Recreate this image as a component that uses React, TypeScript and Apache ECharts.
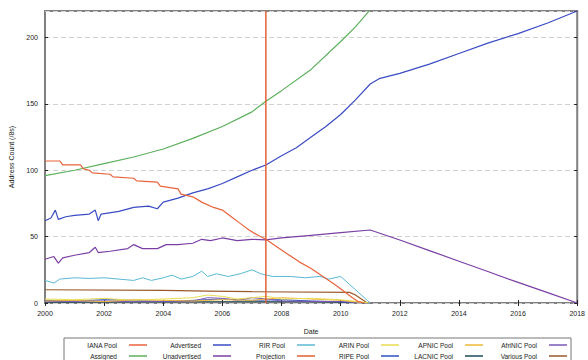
import React, { useEffect, useRef } from "react";
import * as echarts from "echarts";

const FONT = "'Liberation Sans', Arial, sans-serif";

const xTicks = [2000, 2002, 2004, 2006, 2008, 2010, 2012, 2014, 2016, 2018];
const yTicks = [0, 50, 100, 150, 200];

const ianaPool = [[2000,107],[2000.5,107],[2000.6,104],[2001.2,104],[2001.3,101],[2001.5,100],[2001.6,98],[2002.2,97],[2002.3,95],[2003,94],[2003.1,92],[2003.8,91],[2003.9,88],[2004.5,86],[2004.6,82],[2005,80],[2005.3,76],[2005.7,72],[2006,70],[2006.3,65],[2006.6,60],[2006.9,55],[2007.2,51],[2007.47,48],[2007.8,43],[2008.2,37],[2008.6,31],[2009,26],[2009.4,20],[2009.8,14],[2010.1,9],[2010.4,4],[2010.6,1],[2010.8,0]];
const assigned = [[2000,96],[2001,100],[2002,105],[2003,110],[2004,116],[2005,124],[2006,133],[2007,144],[2007.47,152],[2008,160],[2009,176],[2010,197],[2010.5,208],[2011,221],[2011.2,226]];
const advertised = [[2000,62],[2000.2,64],[2000.35,70],[2000.45,63],[2000.7,65],[2001,66],[2001.5,67],[2001.7,70],[2001.8,62],[2001.9,67],[2002.5,69],[2003,72],[2003.5,73],[2003.8,71],[2004,76],[2004.5,79],[2005,83],[2005.5,86],[2006,90],[2006.5,95],[2007,100],[2007.47,104],[2008,111],[2008.5,117],[2009,125],[2009.5,133],[2010,142],[2010.5,153],[2011,165],[2011.3,169],[2012,173],[2013,180],[2014,188],[2015,196],[2016,203],[2017,211],[2018,220]];
const unadvertised = [[2000,33],[2000.3,35],[2000.45,30],[2000.6,34],[2001,36],[2001.5,38],[2001.7,42],[2001.8,38],[2002.2,39],[2002.8,41],[2003,44],[2003.3,41],[2003.8,41],[2004.1,44],[2004.5,44],[2005,45],[2005.3,48],[2005.6,47],[2006,49],[2006.5,47],[2007,48],[2007.47,47.5],[2008,49],[2009,51],[2010,53],[2011,55],[2012,47.5],[2013,39.5],[2014,31.5],[2015,23.5],[2016,15.5],[2017,7.8],[2018,0]];
const rirPool = [[2000,17],[2000.3,15],[2000.5,18],[2001,19],[2001.5,18.5],[2002,19],[2002.5,18],[2003,17],[2003.3,19],[2003.6,17],[2004,19],[2004.3,21],[2004.6,18],[2005,20],[2005.3,24],[2005.5,20],[2005.8,22],[2006.2,20],[2006.6,22],[2007,25],[2007.3,22],[2007.7,20],[2008.3,20],[2008.8,19],[2009.3,20],[2009.6,18],[2010,20],[2010.3,14],[2010.6,8],[2010.9,2],[2011,0]];
const projection = [[2007.47,0],[2007.47,220]];
const arinPool = [[2000,3],[2001,2.5],[2002,3.5],[2003,2],[2004,3],[2005,4],[2005.5,6],[2006,5],[2006.5,3],[2007,4],[2007.5,5],[2008,3],[2009,3.5],[2010,2.5],[2010.8,0.5],[2011,0]];
const apnicPool = [[2000,1.5],[2001,2],[2002,1],[2003,2.5],[2004,2],[2005,1.5],[2006,2.5],[2007,2],[2008,4],[2009,3],[2010,2],[2010.9,0]];
const afrinicPool = [[2000,1],[2002,1.5],[2003,1],[2005,1.5],[2005.5,4],[2006,3.5],[2006.5,2],[2007,4],[2007.5,3],[2008,1.5],[2010,1],[2011,0]];
const ripePool = [[2000,2],[2001,1.5],[2002,2.5],[2003,2],[2004,1],[2005,2],[2006,3],[2007,2],[2008,2.5],[2009,1.5],[2010,1],[2011,0]];
const lacnicPool = [[2000,0.5],[2003,0.8],[2006,1],[2009,1],[2011,0]];
const variousPool = [[2000,10],[2004,9.5],[2005.5,9],[2007,8.5],[2010.3,8],[2010.5,6],[2010.9,0]];

const legendOrder = ["IANA Pool","Advertised","RIR Pool","ARIN Pool","APNIC Pool","AfriNIC Pool","Assigned","Unadvertised","Projection","RIPE Pool","LACNIC Pool","Various Pool"];

const seriesDefs: [string, number[][], string, number][] = [
  ["Various Pool", variousPool, "#9a5a2c", 1.2],
  ["LACNIC Pool", lacnicPool, "#1f4a5a", 1],
  ["RIPE Pool", ripePool, "#3050c0", 1],
  ["AfriNIC Pool", afrinicPool, "#7a58b8", 1],
  ["APNIC Pool", apnicPool, "#f0b838", 1],
  ["ARIN Pool", arinPool, "#e8dc50", 1],
  ["RIR Pool", rirPool, "#5ab8d4", 1],
  ["Unadvertised", unadvertised, "#7b3fa6", 1.2],
  ["Advertised", advertised, "#3a4cc4", 1.2],
  ["Assigned", assigned, "#5cb05c", 1.2],
  ["IANA Pool", ianaPool, "#e8643c", 1.2],
  ["Projection", projection, "#e06034", 1.5],
];

export default function App() {
  const ref = useRef<HTMLDivElement>(null);
  useEffect(() => {
    const chart = echarts.init(ref.current!, null, { renderer: "svg" });
    const option: any = {
      animation: false,
      backgroundColor: "#ffffff",
      textStyle: { fontFamily: FONT },
      grid: { left: 44, right: 4, top: 11, bottom: 57, show: true, borderColor: "#808080", borderWidth: 2, backgroundColor: "transparent" },
      legend: {
        left: 64, top: 338, width: 510, padding: [2, 4, 4, 0], itemGap: 1, itemWidth: 18, itemHeight: 1.5,
        borderColor: "#777777", borderWidth: 1,
        icon: "rect", align: "right", selectedMode: false, data: legendOrder,
        textStyle: { width: 53, padding: [0, 7, 0, 0], lineHeight: 10, fontSize: 6.5, fontFamily: FONT, color: "#222", overflow: "none" },
      },
      xAxis: [
        {
          type: "value", min: 2000, max: 2018, interval: 2,
          name: "Date", nameLocation: "middle", nameGap: 25,
          nameTextStyle: { fontSize: 7, color: "#222", fontFamily: FONT },
          axisLine: { show: false },
          axisTick: { show: true, inside: true, length: 3, lineStyle: { color: "#222" } },
          axisLabel: { fontSize: 7, color: "#222", margin: 7, formatter: (v: number) => String(v) },
          splitLine: { show: false },
        },
        {
          type: "value", position: "top", min: 2000, max: 2018, interval: 2,
          axisLine: { show: false },
          axisTick: { show: true, inside: true, length: 3, lineStyle: { color: "#222" } },
          axisLabel: { show: false }, splitLine: { show: false },
        },
      ],
      yAxis: [
        {
          type: "value", min: 0, max: 220, interval: 50,
          name: "Address Count (/8s)", nameLocation: "middle", nameGap: 30,
          nameTextStyle: { fontSize: 7, color: "#222", fontFamily: FONT },
          axisLine: { show: false },
          axisTick: { show: true, inside: true, length: 3, lineStyle: { color: "#222" } },
          axisLabel: { fontSize: 7, color: "#222", margin: 7, showMaxLabel: false },
          splitLine: { show: true, lineStyle: { color: "#d2d2d2", width: 1, type: [5, 3] } },
        },
        {
          type: "value", position: "right", min: 0, max: 220, interval: 50,
          axisLine: { show: false },
          axisTick: { show: true, inside: true, length: 3, lineStyle: { color: "#222" } },
          axisLabel: { show: false }, splitLine: { show: false },
        },
      ],
      series: seriesDefs.map(([name, data, color, w]) => ({
        name, type: "line", data, symbol: "none", showSymbol: false,
        lineStyle: { color, width: w }, itemStyle: { color },
        clip: true, silent: true,
      })),
    };
    chart.setOption(option);
    return () => chart.dispose();
  }, []);
  return <div ref={ref} style={{ position: "fixed", left: 0, top: 0, width: 588, height: 360 }} />;
}
